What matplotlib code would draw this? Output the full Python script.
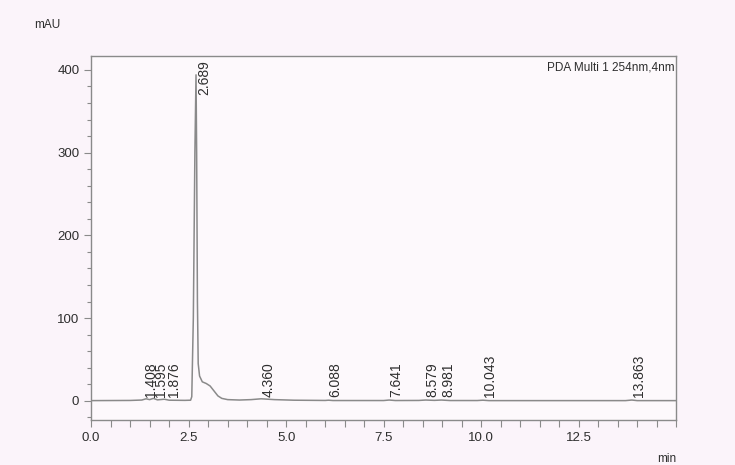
""" HPLC chromatogram, PDA 254 nm """

import matplotlib.pyplot as plt
from matplotlib.ticker import MultipleLocator

# detector trace (min, mAU)
trace_time = [0.0, 1.0, 1.3, 1.408, 1.5, 1.595, 1.7, 1.876, 2.0, 2.4,
              2.55, 2.58, 2.62, 2.66, 2.689, 2.705, 2.725, 2.745, 2.78,
              2.85, 2.95, 3.05, 3.15, 3.25, 3.35, 3.5, 3.8, 4.1, 4.36,
              4.7, 5.2, 6.0, 6.088, 6.2, 7.5, 7.641, 7.8, 8.4, 8.579,
              8.8, 8.981, 9.2, 9.9, 10.043, 10.2, 13.7, 13.863, 14.0, 15.0]
trace_mau = [0.3, 0.5, 1.0, 2.5, 1.5, 3.0, 1.2, 2.0, 0.8, 0.6,
             0.8, 5, 100, 300, 394, 300, 120, 45, 30,
             23, 21, 18, 12, 6, 3, 1.5, 1.0, 1.5, 2.5,
             1.5, 0.8, 0.5, 0.8, 0.4, 0.4, 1.0, 0.4, 0.5, 1.0,
             0.6, 1.0, 0.4, 0.4, 0.8, 0.3, 0.3, 1.0, 0.3, 0.3]

# integrated peaks (retention time, printed label)
peak_times = [1.408, 1.595, 1.876, 2.689, 4.360, 6.088, 7.641, 8.579,
              8.981, 10.043, 13.863]
peak_labels = ["1.408", "1.595", "1.876", "2.689", "4.360", "6.088",
               "7.641", "8.579", "8.981", "10.043", "13.863"]

x_ticks = [0.0, 2.5, 5.0, 7.5, 10.0, 12.5]
y_ticks = [0, 100, 200, 300, 400]

PAPER = "#fbf4fa"
INK = "#2e2e2e"
GREY = "#8a8a8a"

plt.rcParams["font.family"] = ["Liberation Sans", "DejaVu Sans"]

fig = plt.figure(figsize=(7.35, 4.65), dpi=100, facecolor=PAPER)
ax = fig.add_axes([0.124, 0.097, 0.796, 0.783], facecolor="#fdf9fc")

ax.plot(trace_time, trace_mau, color=GREY, lw=1.1)

# the printout nudges crowded labels a bit
nudge = {"1.408": 0.12, "1.595": 0.2, "1.876": 0.25}
for t, lab in zip(peak_times, peak_labels):
    dx = nudge.get(lab, 0.18)
    if lab == "2.689":
        ax.text(t + 0.2, 412, lab, rotation=90, ha="center", va="top",
                fontsize=10, color=INK)
    else:
        ax.text(t + dx, 5, lab, rotation=90, ha="center", va="bottom",
                fontsize=10, color=INK)

ax.text(0.998, 0.985, "PDA Multi 1 254nm,4nm", transform=ax.transAxes,
        ha="right", va="top", fontsize=8.5, color=INK)

ax.set_xlim(0, 15)
ax.set_ylim(-23, 417)
ax.set_xticks(x_ticks)
ax.set_xticklabels([f"{v:.1f}" for v in x_ticks])
ax.xaxis.set_minor_locator(MultipleLocator(0.5))
ax.set_yticks(y_ticks)
ax.yaxis.set_minor_locator(MultipleLocator(20))

ax.tick_params(which="both", direction="out", colors=GREY,
               labelcolor=INK, labelsize=9.5)
ax.tick_params(which="major", length=5, width=0.8)
ax.tick_params(which="minor", length=3, width=0.8)
ax.tick_params(axis="x", which="minor", length=5)
for side in ax.spines.values():
    side.set_color(GREY)
    side.set_linewidth(1.0)

fig.text(47 / 735, 1 - 25 / 465, "mAU", ha="center", va="center",
         fontsize=8.5, color=INK)
fig.text(667 / 735, 1 - 453 / 465, "min", ha="center", va="top",
         fontsize=8.5, color=INK)

fig.savefig("out.png", dpi=100, facecolor=PAPER)
